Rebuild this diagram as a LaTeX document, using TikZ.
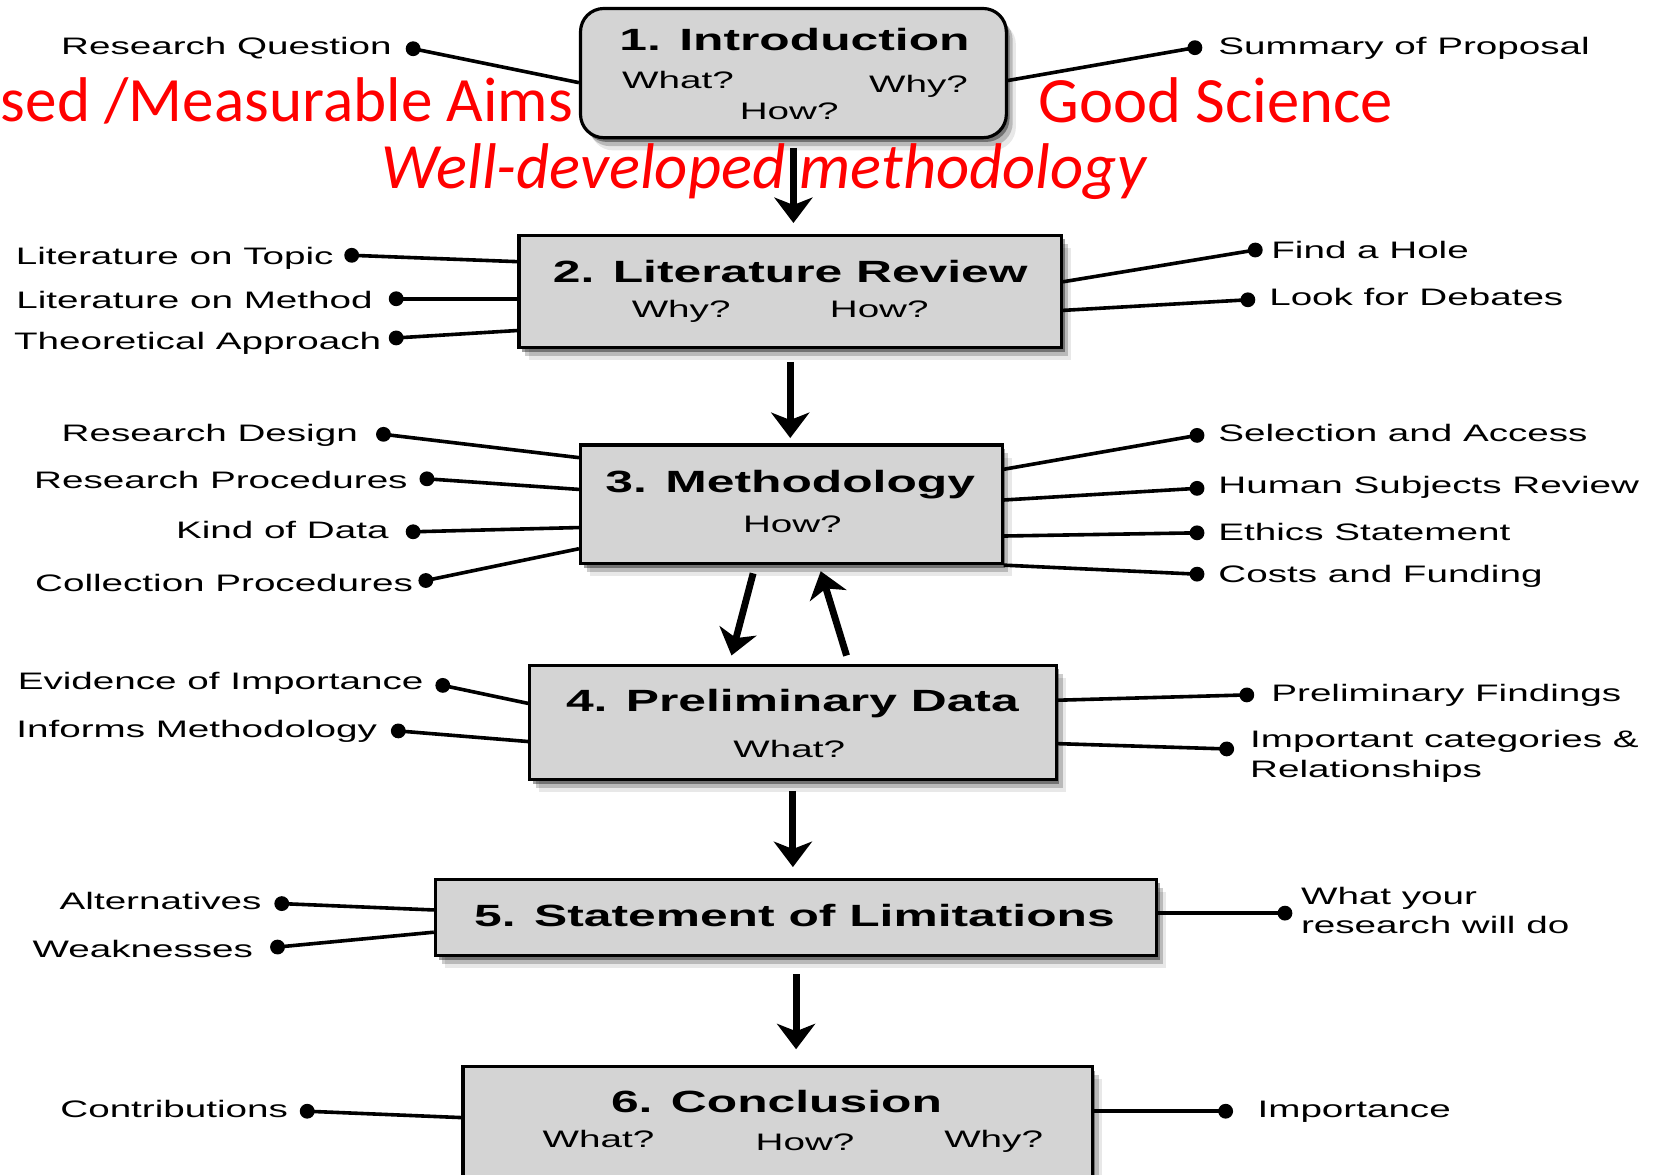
\documentclass[tikz,border=0pt]{standalone}
\usepackage{fontspec}
\usetikzlibrary{arrows.meta,shadows,calc}
\newfontfamily\labfont[FakeStretch=1.62]{Liberation Sans}
\newfontfamily\notefont{Carlito}
\definecolor{boxgray}{HTML}{D4D4D4}
\definecolor{notered}{HTML}{FF0000}

\begin{document}
\begin{tikzpicture}[x=1pt,y=-1pt,
  stage/.style={draw=black, line width=3pt, fill=boxgray, inner sep=0pt,
    drop shadow={shadow xshift=3pt,shadow yshift=-4pt,opacity=0.38,fill=black},
    drop shadow={shadow xshift=6pt,shadow yshift=-8pt,opacity=0.20,fill=black},
    drop shadow={shadow xshift=9pt,shadow yshift=-12pt,opacity=0.09,fill=black}},
  title/.style={inner sep=0pt, font=\labfont\bfseries\fontsize{29}{33}\selectfont,
    text height=21pt, text depth=0pt},
  ask/.style={inner sep=0pt, font=\labfont\fontsize{22.5}{27}\selectfont,
    text height=16pt, text depth=0pt},
  lab/.style={ask},
  lab2/.style={inner sep=0pt, font=\labfont\fontsize{22.5}{28}\selectfont, align=left},
  dot/.style={circle, fill=black, minimum size=14pt, inner sep=0pt},
  conn/.style={line width=3.4pt},
  flow/.style={line width=6.5pt, -{Stealth[length=24pt,width=36pt,inset=7pt]}},
  note/.style={text=notered, inner sep=0pt, font=\notefont\fontsize{61}{70}\selectfont}
]
\useasboundingbox (0,0) rectangle (1568,1109);
\fill[white] (0,0) rectangle (1568,1109);

% ---- stage boxes ----
\node[stage, rounded corners=22pt, minimum width=402pt, minimum height=122pt] (b1) at (749,69) {};
\node[stage, minimum width=512pt, minimum height=106pt] (b2) at (746,275) {};
\node[stage, minimum width=398pt, minimum height=112pt] (b3) at (747,476) {};
\node[stage, minimum width=497pt, minimum height=108pt] (b4) at (748.5,682) {};
\node[stage, minimum width=681pt, minimum height=72pt] (b5) at (751.5,866) {};
\node[stage, minimum width=594pt, minimum height=118pt] (b6) at (734,1066) {};

% ---- box texts ----
\node[title] (t1) at (750,37) {1. Introduction};
\node[ask] (q1a) at (640,76) {What?};
\node[ask] (q1b) at (867,79) {Why?};
\node[ask] (q1c) at (745,105) {How?};

\node[title] (t2) at (746,256) {2. Literature Review};
\node[ask] (q2a) at (643,292) {Why?};
\node[ask] (q2b) at (830,292) {How?};

\node[title] (t3) at (746,454) {3. Methodology};
\node[ask] (q3a) at (748,495) {How?};

\node[title] (t4) at (748,661) {4. Preliminary Data};
\node[ask] (q4a) at (745,707) {What?};

\node[title] (t5) at (750,864) {5. Statement of Limitations};

\node[title] (t6) at (733,1040) {6. Conclusion};
\node[ask] (q6a) at (565,1075) {What?};
\node[ask] (q6b) at (760,1078) {How?};
\node[ask] (q6c) at (938,1075) {Why?};

% ---- flow arrows ----
\draw[flow, shorten <=8pt, shorten >=10pt] (b1.south) -- (b1.south |- b2.north);
\draw[flow, shorten <=12pt, shorten >=5pt] (b2.south) -- (b2.south |- b3.north);
\draw[flow, shorten <=8pt, shorten >=8pt] ([xshift=-34pt]b3.south) -- ([xshift=-60pt]b4.north);
\draw[flow, shorten <=8pt, shorten >=6pt] ([xshift=53pt]b4.north) -- ([xshift=26pt]b3.south);
\draw[flow, shorten <=9pt, shorten >=10pt] (b4.south) -- (b4.south |- b5.north);
\draw[flow, shorten <=16pt, shorten >=15pt] (b5.south) -- (b5.south |- b6.north);

% ---- side items: 1. Introduction ----
\node[dot] (d11) at (390,46) {};
\node[lab, anchor=east] at (370,43) {Research Question};
\draw[conn] (d11.center) -- (b1.west |- 0,78);
\node[dot] (d12) at (1128,45) {};
\node[lab, anchor=west] at (1150,43) {Summary of Proposal};
\draw[conn] (d12.center) -- (b1.east |- 0,76);

% ---- side items: 2. Literature Review ----
\node[dot] (d21) at (332,241) {};
\node[lab, anchor=east] at (315,242) {Literature on Topic};
\draw[conn] (d21.center) -- (b2.west |- 0,247);
\node[dot] (d22) at (374,282) {};
\node[lab, anchor=east] at (352,283) {Literature on Method};
\draw[conn] (d22.center) -- (b2.west |- 0,282);
\node[dot] (d23) at (374,319) {};
\node[lab, anchor=east] at (360,322) {Theoretical Approach};
\draw[conn] (d23.center) -- (b2.west |- 0,312);
\node[dot] (d24) at (1185,236) {};
\node[lab, anchor=west] at (1200,236) {Find a Hole};
\draw[conn] (d24.center) -- (b2.east |- 0,266);
\node[dot] (d25) at (1178,283) {};
\node[lab, anchor=west] at (1198,280) {Look for Debates};
\draw[conn] (d25.center) -- (b2.east |- 0,293);

% ---- side items: 3. Methodology ----
\node[dot] (d31) at (362,410) {};
\node[lab, anchor=east] at (338,409) {Research Design};
\draw[conn] (d31.center) -- (b3.west |- 0,432);
\node[dot] (d32) at (403,452) {};
\node[lab, anchor=east] at (385,453) {Research Procedures};
\draw[conn] (d32.center) -- (b3.west |- 0,462);
\node[dot] (d33) at (390,502) {};
\node[lab, anchor=east] at (367,500) {Kind of Data};
\draw[conn] (d33.center) -- (b3.west |- 0,498);
\node[dot] (d34) at (402,548) {};
\node[lab, anchor=east] at (390,550) {Collection Procedures};
\draw[conn] (d34.center) -- (b3.west |- 0,518);
\node[dot] (d35) at (1130,411) {};
\node[lab, anchor=west] at (1150,409) {Selection and Access};
\draw[conn] (d35.center) -- (b3.east |- 0,443);
\node[dot] (d36) at (1130,461) {};
\node[lab, anchor=west] at (1150,458) {Human Subjects Review};
\draw[conn] (d36.center) -- (b3.east |- 0,472);
\node[dot] (d37) at (1130,503) {};
\node[lab, anchor=west] at (1150,502) {Ethics Statement};
\draw[conn] (d37.center) -- (b3.east |- 0,506);
\node[dot] (d38) at (1130,542) {};
\node[lab, anchor=west] at (1150,542) {Costs and Funding};
\draw[conn] (d38.center) -- (b3.south east);

% ---- side items: 4. Preliminary Data ----
\node[dot] (d41) at (418,647) {};
\node[lab, anchor=east] at (400,643) {Evidence of Importance};
\draw[conn] (d41.center) -- (b4.west |- 0,664);
\node[dot] (d42) at (376,690) {};
\node[lab, anchor=east] at (356,688) {Informs Methodology};
\draw[conn] (d42.center) -- (b4.west |- 0,700);
\node[dot] (d43) at (1177,656) {};
\node[lab, anchor=west] at (1200,654) {Preliminary Findings};
\draw[conn] (d43.center) -- (b4.east |- 0,661);
\node[dot] (d44) at (1158,707) {};
\node[lab2, anchor=north west] at (1180,689) {Important categories \&\\Relationships};
\draw[conn] (d44.center) -- (b4.east |- 0,702);

% ---- side items: 5. Statement of Limitations ----
\node[dot] (d51) at (266,853) {};
\node[lab, anchor=east] at (247,851) {Alternatives};
\draw[conn] (d51.center) -- (b5.west |- 0,859);
\node[dot] (d52) at (262,894) {};
\node[lab, anchor=east] at (239,896) {Weaknesses};
\draw[conn] (d52.center) -- (b5.west |- 0,880);
\node[dot] (d53) at (1213,862) {};
\node[lab2, anchor=north west] at (1228,837) {What your\\research will do};
\draw[conn] (d53.center) -- (b5.east |- 0,862);

% ---- side items: 6. Conclusion ----
\node[dot] (d61) at (290,1049) {};
\node[lab, anchor=east] at (272,1047) {Contributions};
\draw[conn] (d61.center) -- (b6.west |- 0,1055);
\node[dot] (d62) at (1157,1049) {};
\node[lab, anchor=west] at (1187,1047) {Importance};
\draw[conn] (d62.center) -- (b6.east |- 0,1049);

% ---- red annotations ----
\node[note, anchor=east, font=\notefont\fontsize{59.6}{70}\selectfont] (n1) at (541,95) {sed /Measurable Aims};
\node[note, anchor=west] (n2) at (980,95) {Good Science};
\node[note, font=\notefont\itshape\fontsize{61}{70}\selectfont] (n3) at (721,162) {Well-developed methodology};
\end{tikzpicture}
\end{document}
